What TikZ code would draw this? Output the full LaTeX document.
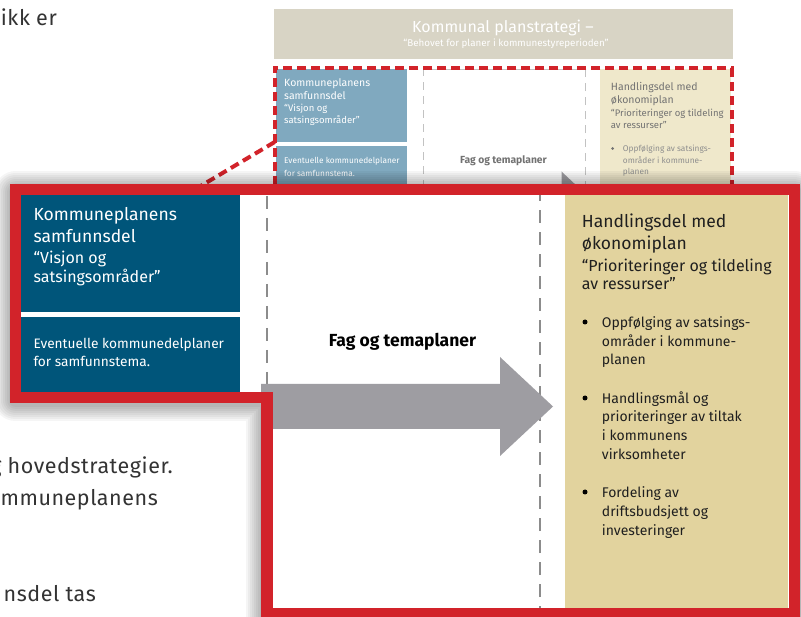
\documentclass[tikz,border=0pt]{standalone}
\usepackage{fontspec}
\setmainfont{Fira Sans}

\definecolor{planred}{HTML}{D2232A}
\definecolor{planblue}{HTML}{00557A}
\definecolor{paleblue}{HTML}{80A9BF}
\definecolor{planbeige}{HTML}{E2D39E}
\definecolor{palebeige}{HTML}{EFE8CB}
\definecolor{headgray}{HTML}{D8D4C5}
\definecolor{arrowgray}{HTML}{9E9DA2}
\definecolor{bodytext}{HTML}{333333}
\definecolor{fadetext}{HTML}{727272}
\definecolor{lightdash}{HTML}{C2C2C2}
\definecolor{darkdash}{HTML}{8C8C8C}

\newcommand{\fsz}[1]{\fontsize{#1}{#1}\selectfont}

\begin{document}
\begin{tikzpicture}[x=1pt, y=-1pt,
    box/.style={inner sep=0, outer sep=0, anchor=north west},
    line/.style={inner sep=0, anchor=base west},
    mid/.style={inner sep=0, anchor=base},
    dot/.style={circle, inner sep=0, minimum size=#1},
    reddash/.style={draw=planred, line width=4pt, dash pattern=on 9pt off 5pt},
    graydash/.style={draw=lightdash, line width=1pt, dash pattern=on 8pt off 6pt},
    bigdash/.style={draw=darkdash, line width=1.3pt, dash pattern=on 13pt off 9pt}]

   \clip (0,0) rectangle (801,617);
   \fill[white] (0,0) rectangle (801,617);

   % text of the page behind
   \foreach [count=\i] \x/\y/\t in {57/26/ikk er, 173/474/g hovedstrategier., 158/505/mmuneplanens, 96/601.7/nsdel tas}
     \node[inner sep=0, anchor=base east, text=bodytext, font=\fsz{21.5}\addfontfeature{LetterSpace=2.5}] (body\i) at (\x,\y) {\t};

   % small overview
   \node[box, fill=headgray, minimum width=459.5pt, minimum height=50pt] (strat) at (273.5,9.5) {};
   \node[mid, text=white, font=\fsz{16}] (strat1) at (503,32.3) {Kommunal planstrategi –};
   \node[mid, text=white, font=\fsz{9.8}] (strat2) at (506,46.7) {“Behovet for planer i kommunestyreperioden”};

   \node[box, fill=paleblue, minimum width=131pt, minimum height=72.5pt] (ssam) at (276,69.5) {};
   \node[box, fill=paleblue, minimum width=131pt, minimum height=60pt] (sdel) at (276,146) {};
   \node[box, graydash, minimum width=161.7pt, minimum height=140pt] (sfag) at (423.3,69.5) {};
   \node[box, fill=palebeige, minimum width=131pt, minimum height=135pt] (shand) at (600,69) {};

   \foreach [count=\i] \y/\t in {86.7/Kommuneplanens, 99.3/samfunnsdel}
     \node[line, text=white, font=\fsz{10.5}] (ssamh\i) at (284,\y) {\t};
   \foreach [count=\i] \y/\t in {112/“Visjon og, 123.3/satsingsområder”}
     \node[line, text=white, font=\fsz{9.5}] (ssams\i) at (284,\y) {\t};
   \foreach [count=\i] \y/\t in {164/Eventuelle kommunedelplaner, 176.7/for samfunnstema.}
     \node[line, text=white, font=\fsz{8.3}] (sdelt\i) at (284,\y) {\t};
   \node[mid, text=fadetext, font=\fsz{10.3}\bfseries] (sfagt) at (503.5,163.3) {Fag og temaplaner};
   \fill[arrowgray] (561.5,171.5) -- (595,203) -- (561.5,203) -- cycle;

   \foreach [count=\i] \y/\t in {90.7/Handlingsdel med, 104/økonomiplan}
     \node[line, text=fadetext, font=\fsz{10.5}] (shandh\i) at (610.7,\y) {\t};
   \foreach [count=\i] \y/\t in {116.7/“Prioriteringer og tildeling, 128.3/av ressurser”}
     \node[line, text=fadetext, font=\fsz{9.5}] (shands\i) at (610.7,\y) {\t};
   \node[dot=3pt, fill=fadetext] (sdot) at (612.5,148.5) {};
   \foreach [count=\i] \y/\t in {151.7/Oppfølging av satsings-, 163.3/områder i kommune-, 175/planen}
     \node[line, text=fadetext!80, font=\fsz{8.3}] (sbul\i) at (622.7,\y) {\t};

   \node[box, reddash, minimum width=456.8pt, minimum height=140pt] (szoom) at (274.7,67.8) {};
   \coordinate (zoomend) at (194,190);
   \draw[reddash] (szoom.west |- ssam.south) -- (zoomend);

   % zoomed panel
   \coordinate (p1) at (15.5,189.5);
   \coordinate (p2) at (794.5,189.5);
   \coordinate (p3) at (794.5,613.5);
   \coordinate (p4) at (267,613.5);
   \coordinate (p5) at (267,397.5);
   \coordinate (p6) at (15.5,397.5);

   \foreach \w in {14,18,...,42}
     \draw[black, opacity=0.04, line width=\w pt, line join=round, transform canvas={yshift=-3pt}]
        (p1) -- (p2) -- (p3) -- (p4) -- (p5) -- (p6) -- cycle;
   \fill[white] (p1) -- (p2) -- (p3) -- (p4) -- (p5) -- (p6) -- cycle;

   \node[box, fill=planblue, minimum width=219pt, minimum height=117pt] (bsam) at (21,195) {};
   \node[box, fill=planblue, minimum width=219pt, minimum height=75pt] (bdel) at (21,317) {};
   \node[box, bigdash, minimum width=273pt, minimum height=418pt] (bfag) at (267,192) {};
   \node[box, fill=planbeige, minimum width=223pt, minimum height=413pt] (bhand) at (565,195) {};
   \fill[arrowgray] (261,384) -- (500,384) -- (500,357) -- (553,406.5) -- (500,456) -- (500,429) -- (261,429) -- cycle;

   \foreach [count=\i] \y/\t in {220.7/Kommuneplanens, 242.7/samfunnsdel}
     \node[line, text=white, font=\fsz{17.5}] (bsamh\i) at (33.3,\y) {\t};
   \foreach [count=\i] \y/\t in {264/“Visjon og, 282.7/satsingsområder”}
     \node[line, text=white, font=\fsz{16}] (bsams\i) at (33.3,\y) {\t};
   \foreach [count=\i] \y/\t in {348.3/Eventuelle kommunedelplaner, 366.7/for samfunnstema.}
     \node[line, text=white, font=\fsz{13.7}] (bdelt\i) at (33.3,\y) {\t};
   \node[mid, font=\fsz{17.5}\bfseries] (bfagt) at (402.5,346.7) {Fag og temaplaner};

   \foreach [count=\i] \y/\t in {227.3/Handlingsdel med, 249.3/økonomiplan}
     \node[line, text=black!88, font=\fsz{17.5}] (bhandh\i) at (581.7,\y) {\t};
   \foreach [count=\i] \y/\t in {271.7/“Prioriteringer og tildeling, 290/av ressurser”}
     \node[line, text=black!88, font=\fsz{16}] (bhands\i) at (581.7,\y) {\t};
   \foreach [count=\i] \y in {327.3, 403.3, 497.3}
     \node[dot=5pt, fill=black] (bdot\i) at (585,\y-5.3) {};
   \foreach [count=\i] \y/\t in {327.3/Oppfølging av satsings-, 346.7/områder i kommune-, 365/planen,
        403.3/Handlingsmål og, 421.7/prioriteringer av tiltak, 440.7/i kommunens, 460/virksomheter,
        497.3/Fordeling av, 516.7/driftsbudsjett og, 536/investeringer}
     \node[line, text=black!88, font=\fsz{14}] (bbul\i) at (601.7,\y) {\t};

   \draw[planred, line width=11.5pt] (p1) -- (p2) -- (p3) -- (p4) -- (p5) -- (p6) -- cycle;

\end{tikzpicture}
\end{document}
